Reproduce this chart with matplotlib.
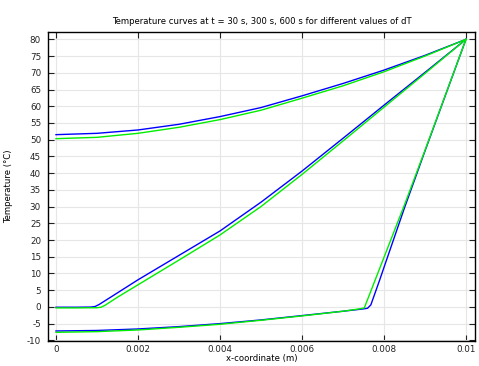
import matplotlib
matplotlib.use("Agg")
import matplotlib.pyplot as plt
import numpy as np

plt.rcParams['axes.unicode_minus'] = False
plt.rcParams['font.family'] = ['DejaVu Sans']

# --- data ---
# t = 600 s (top curves)
x_top = [0, 0.001, 0.002, 0.003, 0.004, 0.005, 0.006, 0.007, 0.008, 0.009, 0.01]
T_top_blue = [51.5, 51.9, 52.9, 54.6, 56.9, 59.6, 63.1, 66.8, 70.8, 75.2, 80.0]
T_top_green = [50.3, 50.7, 51.9, 53.7, 56.0, 58.8, 62.4, 66.1, 70.3, 75.0, 80.0]

# t = 300 s (middle curves)
x_mid_blue = [0, 0.0005, 0.00085, 0.00095, 0.00105, 0.0015, 0.002, 0.003, 0.004, 0.005, 0.006, 0.007, 0.008, 0.009, 0.01]
T_mid_blue = [-0.1, -0.1, -0.05, 0.1, 0.7, 4.2, 8.1, 15.4, 22.7, 31.3, 40.6, 50.4, 60.3, 70.1, 80.0]
x_mid_green = [0, 0.0005, 0.001, 0.0011, 0.0012, 0.0015, 0.002, 0.003, 0.004, 0.005, 0.006, 0.007, 0.008, 0.009, 0.01]
T_mid_green = [-0.3, -0.3, -0.25, -0.1, 0.5, 2.9, 6.6, 14.0, 21.5, 30.0, 39.6, 49.6, 59.7, 69.8, 80.0]

# t = 30 s (bottom curves)
x_bot_blue = [0, 0.001, 0.002, 0.003, 0.004, 0.005, 0.006, 0.007, 0.0075, 0.0076, 0.00768, 0.0079, 0.008, 0.0085, 0.009, 0.0095, 0.01]
T_bot_blue = [-7.2, -7.05, -6.6, -5.9, -5.0, -3.9, -2.6, -1.3, -0.6, -0.4, 0.6, 8.2, 11.8, 29.6, 46.6, 63.3, 80.0]
x_bot_green = [0, 0.001, 0.002, 0.003, 0.004, 0.005, 0.006, 0.007, 0.0074, 0.00752, 0.0076, 0.0078, 0.008, 0.0085, 0.009, 0.0095, 0.01]
T_bot_green = [-7.6, -7.4, -6.9, -6.1, -5.2, -4.0, -2.7, -1.3, -0.6, -0.3, 2.2, 8.5, 14.8, 30.5, 46.8, 63.4, 80.0]

xticks = [0, 0.002, 0.004, 0.006, 0.008, 0.01]
xtick_labels = ['0', '0.002', '0.004', '0.006', '0.008', '0.01']
yticks = list(range(-10, 81, 5))

title = 'Temperature curves at t = 30 s, 300 s, 600 s for different values of dT'

blue = '#0000ff'
green = '#00ee00'

fig = plt.figure(figsize=(4.79, 3.66), dpi=100)
ax = fig.add_axes([0.1002, 0.0683, 0.8914, 0.8443])

for xs, ys in [(x_top, T_top_blue), (x_mid_blue, T_mid_blue), (x_bot_blue, T_bot_blue)]:
    ax.plot(xs, ys, color=blue, lw=1.0)
for xs, ys in [(x_top, T_top_green), (x_mid_green, T_mid_green), (x_bot_green, T_bot_green)]:
    ax.plot(xs, ys, color=green, lw=1.0)

ax.set_xlim(-0.000195, 0.01022)
ax.set_ylim(-10.2, 82.2)
ax.set_xticks(xticks)
ax.set_xticklabels(xtick_labels)
ax.set_yticks(yticks)
ax.tick_params(direction='in', top=True, right=True, labelsize=6.3, length=4, width=0.8, colors='#222222')
ax.tick_params(axis='y', pad=5)
ax.tick_params(axis='x', pad=3)
ax.grid(True, color='#e6e6e6', lw=0.8)
ax.set_axisbelow(True)
for s in ax.spines.values():
    s.set_linewidth(1.0)
ax.set_title(title, fontsize=6.1, pad=6)
ax.set_xlabel('x-coordinate (m)', fontsize=6.1, labelpad=0)
ax.set_ylabel('Temperature (°C)', fontsize=6.1, labelpad=10)

fig.savefig('out.png', dpi=100)
